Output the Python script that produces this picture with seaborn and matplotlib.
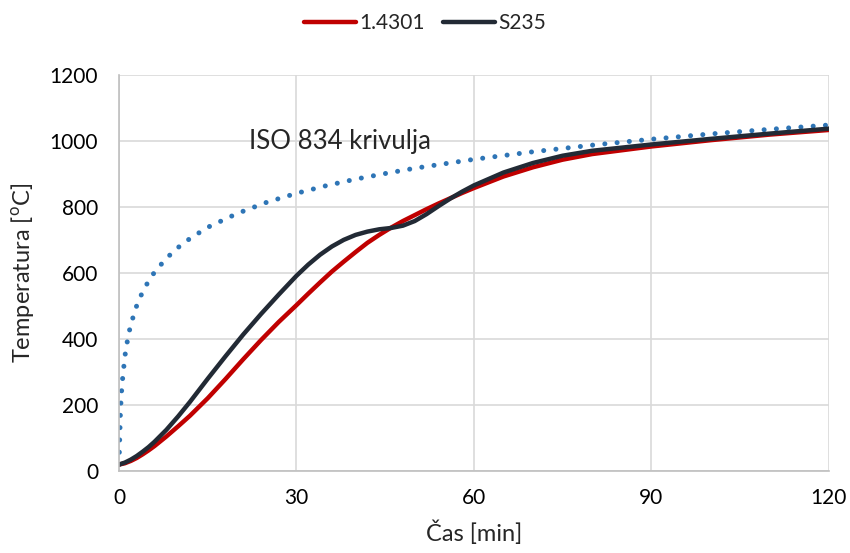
import numpy as np
import pandas as pd
import matplotlib
matplotlib.use("Agg")
import matplotlib.pyplot as plt
import seaborn as sns
from matplotlib.lines import Line2D

# Standard fire curve (ISO 834), minutes -> gas temperature
iso_t = [0, 0.25, 0.5, 1, 1.5, 2, 3, 4, 5, 6, 8, 10, 12, 15, 20, 25, 30, 35, 40,
         45, 50, 60, 70, 80, 90, 100, 110, 120]
iso_T = [20, 185, 261, 349, 404, 445, 502, 544, 576, 603, 645, 678, 705, 739,
         781, 815, 842, 865, 885, 902, 918, 945, 968, 988, 1006, 1022, 1036, 1049]

# Steel section temperatures
steel_t = [0, 1, 2, 3, 4, 5, 6, 8, 10, 12, 15, 18, 21, 24, 27, 30, 32, 34, 36,
           38, 40, 42, 44, 46, 48, 50, 52, 54, 56, 58, 60, 65, 70, 75, 80, 90,
           100, 110, 120]
t_14301 = [20, 24, 31, 40, 51, 63, 76, 105, 136, 168, 221, 279, 339, 397, 452,
           503, 538, 572, 605, 635, 664, 692, 716, 738, 758, 776, 794, 811, 827,
           843, 858, 893, 921, 944, 961, 984, 1003, 1020, 1034]
t_s235 = [20, 26, 35, 46, 59, 73, 89, 125, 166, 210, 280, 348, 414, 476, 535,
          592, 626, 656, 681, 701, 716, 726, 733, 737, 744, 758, 779, 803, 826,
          847, 866, 905, 934, 956, 971, 990, 1007, 1023, 1038]

series_names = ["1.4301", "S235"]
curve_label = "ISO 834 krivulja"
x_ticks = [0, 30, 60, 90, 120]
y_ticks = [0, 200, 400, 600, 800, 1000, 1200]

sns.set_style("white")
plt.rcParams["font.family"] = ["Lato", "DejaVu Sans"]
plt.rcParams["mathtext.fontset"] = "custom"
plt.rcParams["mathtext.rm"] = "Lato"

fig = plt.figure(figsize=(8.5, 5.53), dpi=100)
ax = fig.add_axes([0.14, 0.148, 0.835, 0.716])

grid_c = "#D9D9D9"
ax.set_xlim(0, 120)
ax.set_ylim(0, 1200)
ax.set_xticks(x_ticks)
ax.set_yticks(y_ticks)
ax.grid(True, color=grid_c, lw=1.2)
ax.set_axisbelow(True)
for s in ["top", "right"]:
    ax.spines[s].set_visible(False)
for s in ["left", "bottom"]:
    ax.spines[s].set_color("#BFBFBF")
    ax.spines[s].set_linewidth(1.2)
ax.tick_params(axis="y", length=0, labelsize=15, colors="#000000", pad=15)
ax.tick_params(axis="x", length=0, labelsize=15, colors="#000000", pad=12)

iso_df = pd.DataFrame({"t": iso_t, "T": iso_T})
sns.lineplot(data=iso_df, x="t", y="T", ax=ax, color="#2E75B6", lw=3.6,
             linestyle=(0, (0.01, 2.45)), dash_capstyle="round", sort=False,
             legend=False)

df = pd.DataFrame({
    "t": steel_t * 2,
    "T": t_14301 + t_s235,
    "Materijal": [series_names[0]] * len(steel_t) + [series_names[1]] * len(steel_t),
})
sns.lineplot(data=df, x="t", y="T", hue="Materijal", ax=ax,
             palette={series_names[0]: "#C00000", series_names[1]: "#222A35"},
             lw=3.2, sort=False, legend=False)

ax.text(22, 1000, curve_label, fontsize=18.5, va="center", ha="left")

ax.set_xlabel("Čas [min]", fontsize=17, labelpad=9)
ax.set_ylabel(r"Temperatura [$^\mathrm{o}$C]", fontsize=17, labelpad=10)

handles = [Line2D([], [], color="#C00000", lw=3.2),
           Line2D([], [], color="#222A35", lw=3.2)]
fig.legend(handles, series_names, loc="center", bbox_to_anchor=(0.5, 0.958),
           ncol=2, frameon=False, fontsize=15, handlelength=2.5,
           handletextpad=0.15, columnspacing=0.9)

fig.savefig("out.png", dpi=100)
